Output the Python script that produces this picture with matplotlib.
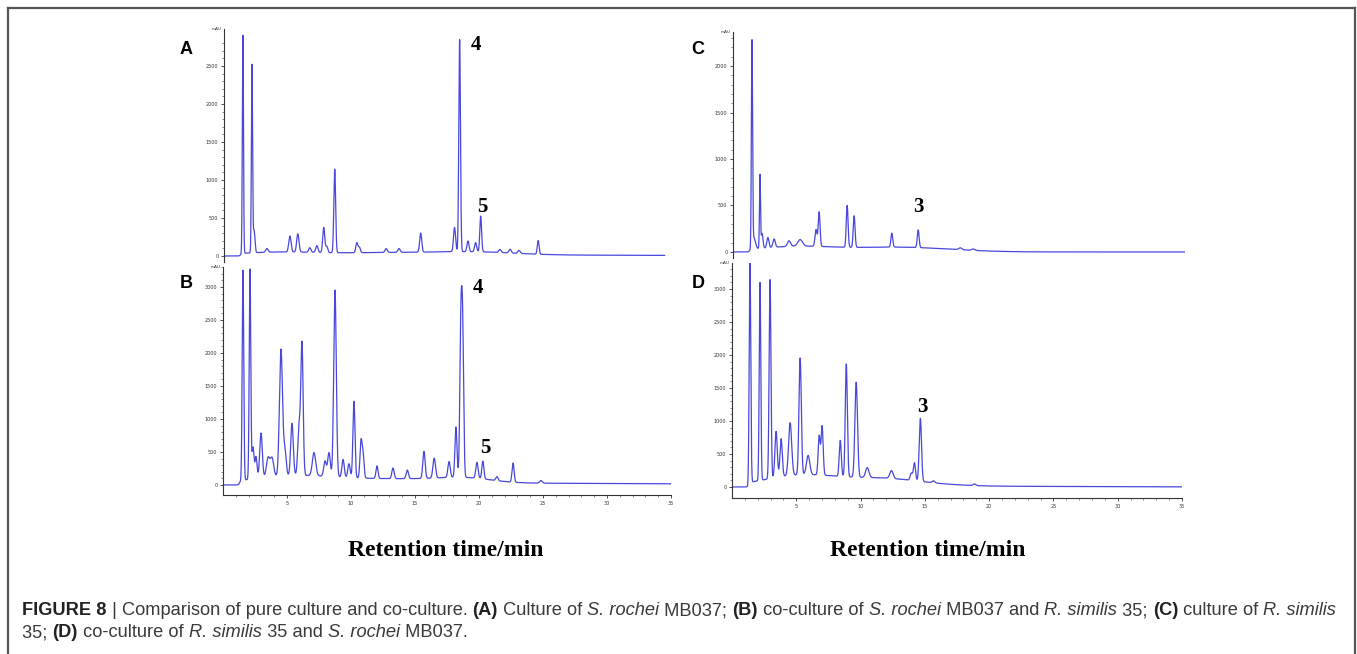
import numpy as np
import matplotlib.pyplot as plt
from matplotlib.lines import Line2D

# --- Peak tables (retention time min, height mAU, sigma min) ---
a_rt = [1.48, 2.19, 2.35, 3.36, 5.16, 5.78, 6.72, 7.27, 7.81, 8.05, 8.67, 10.4, 10.6,
        12.7, 13.7, 15.4, 18.05, 18.45, 19.1, 19.7, 20.1, 21.6, 22.4, 23.1, 24.6]
a_h = [2870, 2460, 300, 50, 210, 240, 60, 90, 330, 80, 1100, 130, 70,
       50, 50, 250, 320, 2790, 140, 120, 470, 40, 50, 40, 180]
a_w = [0.045, 0.045, 0.07, 0.09, 0.09, 0.09, 0.09, 0.09, 0.08, 0.08, 0.07, 0.08, 0.08,
       0.09, 0.09, 0.08, 0.08, 0.065, 0.08, 0.08, 0.07, 0.09, 0.09, 0.09, 0.07]
a_base = [(4, 40, 3), (13, 35, 5), (20, 30, 3), (22, 12, 14)]

b_rt = [1.56, 2.11, 2.34, 2.58, 2.97, 3.52, 3.83, 4.53, 4.84, 5.39, 5.94, 6.17, 7.11,
        7.97, 8.28, 8.75, 9.38, 9.84, 10.23, 10.78, 10.94, 12.03, 13.28, 14.4, 15.7,
        16.5, 17.66, 18.2, 18.58, 18.72, 19.84, 20.3, 21.4, 22.66, 24.84]
b_h = [3180, 3180, 480, 330, 680, 290, 280, 1920, 380, 790, 730, 1980, 350,
       230, 360, 2830, 270, 210, 1160, 540, 350, 190, 160, 130, 410,
       300, 240, 760, 2130, 2130, 240, 270, 60, 290, 40]
b_w = [0.06, 0.06, 0.08, 0.08, 0.1, 0.13, 0.13, 0.12, 0.1, 0.1, 0.1, 0.09, 0.13,
       0.1, 0.1, 0.1, 0.09, 0.09, 0.08, 0.08, 0.08, 0.08, 0.09, 0.09, 0.09,
       0.1, 0.09, 0.08, 0.08, 0.08, 0.09, 0.08, 0.09, 0.08, 0.1]
b_base = [(5.5, 130, 3.5), (14, 70, 4), (19, 60, 2), (25, 25, 12)]

c_rt = [1.47, 1.62, 2.09, 2.25, 2.7, 3.18, 4.34, 5.2, 6.43, 6.67, 8.84, 9.38, 12.3,
        14.34, 17.6, 18.6]
c_h = [2200, 120, 785, 160, 110, 90, 60, 70, 180, 370, 450, 340, 150,
       190, 20, 15]
c_w = [0.045, 0.12, 0.04, 0.07, 0.08, 0.09, 0.12, 0.18, 0.08, 0.07, 0.07, 0.07, 0.07,
       0.07, 0.12, 0.12]
c_base = [(5, 60, 3), (12, 40, 3), (16, 20, 3)]

d_rt = [1.4, 2.18, 2.96, 3.43, 3.82, 4.52, 5.3, 5.92, 6.78, 7.01, 8.42, 8.89, 9.66,
        10.52, 12.4, 13.95, 14.19, 14.65, 15.67, 18.86]
d_h = [3330, 3000, 3015, 700, 575, 800, 1770, 290, 590, 740, 545, 1710, 1440,
       150, 120, 110, 270, 955, 30, 25]
d_w = [0.06, 0.06, 0.07, 0.09, 0.09, 0.12, 0.09, 0.13, 0.08, 0.08, 0.08, 0.08, 0.1,
       0.13, 0.13, 0.09, 0.08, 0.09, 0.1, 0.1]
d_base = [(5.5, 180, 3), (11.5, 80, 2.5), (14, 40, 3), (20, 10, 8)]

solvent_front = 1.3   # min, signal flat before this
x_ticks = [5, 10, 15, 20, 25, 30, 35]

W, H = 1357, 654
LINE = '#4848dc'


def trace(t, rts, hs, ws, base):
    y = np.zeros_like(t)
    for r, h, w in zip(rts, hs, ws):
        y += h * np.exp(-0.5 * ((t - r) / w) ** 2)
    gate = 1.0 / (1.0 + np.exp(-(t - solvent_front) / 0.05))
    for r, h, w in base:
        y += gate * h * np.exp(-0.5 * ((t - r) / w) ** 2)
    return y


def px_axes(left, top, right, bottom):
    return fig.add_axes([left / W, 1 - bottom / H, (right - left) / W, (bottom - top) / H])


def style_axes(ax, ylim, yticks, show_x):
    ax.set_xlim(0, 35)
    ax.set_ylim(*ylim)
    for s in ['top', 'right']:
        ax.spines[s].set_visible(False)
    ax.spines['left'].set_linewidth(0.8)
    ax.spines['left'].set_color('#333333')
    ax.set_yticks(yticks)
    ax.set_yticks(np.arange(0, yticks[-1] + 400, 100), minor=True)
    ax.tick_params(axis='y', which='major', length=2.5, width=0.6, labelsize=3.5,
                   colors='#333333', pad=1.5)
    ax.tick_params(axis='y', which='minor', length=1.2, width=0.4, colors='#333333')
    if show_x:
        ax.spines['bottom'].set_linewidth(0.8)
        ax.spines['bottom'].set_color('#333333')
        ax.set_xticks(x_ticks)
        ax.set_xticks(np.arange(1, 36, 1), minor=True)
        ax.tick_params(axis='x', which='major', length=2.5, width=0.6, labelsize=3.5,
                       colors='#333333', pad=2)
        ax.tick_params(axis='x', which='minor', length=1.5, width=0.4, colors='#333333')
    else:
        ax.spines['bottom'].set_visible(False)
        ax.set_xticks([])
    ax.text(-0.005, 1.0, 'mAU', transform=ax.transAxes, ha='right', va='center',
            fontsize=3, color='#333333')


fig = plt.figure(figsize=(W / 100, H / 100), dpi=100)

t_a = np.arange(0, 34.5, 0.004)
t_full = np.arange(0, 35, 0.004)

ax_a = px_axes(224, 29, 671, 262)
ax_a.plot(t_a, trace(t_a, a_rt, a_h, a_w, a_base), color=LINE, lw=0.9)
style_axes(ax_a, (-79, 2987), [0, 500, 1000, 1500, 2000, 2500], False)

ax_b = px_axes(223, 267, 671, 495)
ax_b.plot(t_full, trace(t_full, b_rt, b_h, b_w, b_base), color=LINE, lw=0.9)
style_axes(ax_b, (-152, 3303), [0, 500, 1000, 1500, 2000, 2500, 3000], True)

ax_c = px_axes(733, 32, 1185, 258)
ax_c.plot(t_full, trace(t_full, c_rt, c_h, c_w, c_base), color=LINE, lw=0.9)
style_axes(ax_c, (-65, 2366), [0, 500, 1000, 1500, 2000], False)

ax_d = px_axes(732, 263, 1182, 498)
ax_d.plot(t_full, trace(t_full, d_rt, d_h, d_w, d_base), color=LINE, lw=0.9)
style_axes(ax_d, (-167, 3394), [0, 500, 1000, 1500, 2000, 2500, 3000], True)


def ftext(x, y, s, **kw):
    return fig.text(x / W, 1 - y / H, s, **kw)


# panel letters
for lx, ly, s in [(186, 50, 'A'), (186, 284, 'B'), (698, 50, 'C'), (698, 284, 'D')]:
    ftext(lx, ly, s, fontsize=13, fontweight='bold', family='Liberation Sans',
          ha='center', va='center', color='black')

# peak numbers
serif = dict(fontsize=15, fontweight='bold', family='Liberation Serif',
             ha='center', va='center', color='black')
ftext(476, 45, '4', **serif)
ftext(482, 207, '5', **serif)
ftext(478, 288, '4', **serif)
ftext(485, 448, '5', **serif)
ftext(918, 207, '3', **serif)
ftext(922, 407, '3', **serif)

# axis titles
for cx in [446, 928]:
    ftext(cx, 550, 'Retention time/min', fontsize=17, fontweight='bold',
          family='Liberation Serif', ha='center', va='center', color='black')

# outer frame (bottom edge runs off the page)
frame = dict(color='#555555', lw=1.6, transform=fig.transFigure)
fig.add_artist(Line2D([8 / W, 8 / W], [0, 1 - 8 / H], **frame))
fig.add_artist(Line2D([8 / W, 1355 / W], [1 - 8 / H, 1 - 8 / H], **frame))
fig.add_artist(Line2D([1355 / W, 1355 / W], [0, 1 - 8 / H], **frame))

# caption with mixed styles
cap1 = [('FIGURE 8', 'bold', 'normal'), (' | ', 'normal', 'normal'),
        ('Comparison of pure culture and co-culture. ', 'normal', 'normal'),
        ('(A)', 'bold', 'normal'), (' Culture of ', 'normal', 'normal'),
        ('S. rochei', 'normal', 'italic'), (' MB037; ', 'normal', 'normal'),
        ('(B)', 'bold', 'normal'), (' co-culture of ', 'normal', 'normal'),
        ('S. rochei', 'normal', 'italic'), (' MB037 and ', 'normal', 'normal'),
        ('R. similis', 'normal', 'italic'), (' 35; ', 'normal', 'normal'),
        ('(C)', 'bold', 'normal'), (' culture of ', 'normal', 'normal'),
        ('R. similis', 'normal', 'italic')]
cap2 = [('35; ', 'normal', 'normal'), ('(D)', 'bold', 'normal'),
        (' co-culture of ', 'normal', 'normal'), ('R. similis', 'normal', 'italic'),
        (' 35 and ', 'normal', 'normal'), ('S. rochei', 'normal', 'italic'),
        (' MB037.', 'normal', 'normal')]

renderer = fig.canvas.get_renderer()


def piece_width(s, size, weight, style):
    kw = dict(fontsize=size, fontweight=weight, fontstyle=style, family='Liberation Sans')
    t1 = fig.text(0, 0, '|' + s + '|', **kw)
    t2 = fig.text(0, 0, '||', **kw)
    w = t1.get_window_extent(renderer).width - t2.get_window_extent(renderer).width
    t1.remove()
    t2.remove()
    return w


def line_width(pieces, size):
    return sum(piece_width(s, size, wt, st) for s, wt, st in pieces)


cap_size = 10 * 1318 / line_width(cap1, 10)


def rich_line(x, y, pieces, size):
    for s, wt, st in pieces:
        col = '#222222' if wt == 'bold' else '#3a3a3a'
        ftext(x, y, s, fontsize=size, fontweight=wt, fontstyle=st,
              family='Liberation Sans', va='baseline', ha='left', color=col)
        x += piece_width(s, size, wt, st)


rich_line(22, 615, cap1, cap_size)
rich_line(22, 637, cap2, cap_size)

fig.savefig('out.png', dpi=100)
